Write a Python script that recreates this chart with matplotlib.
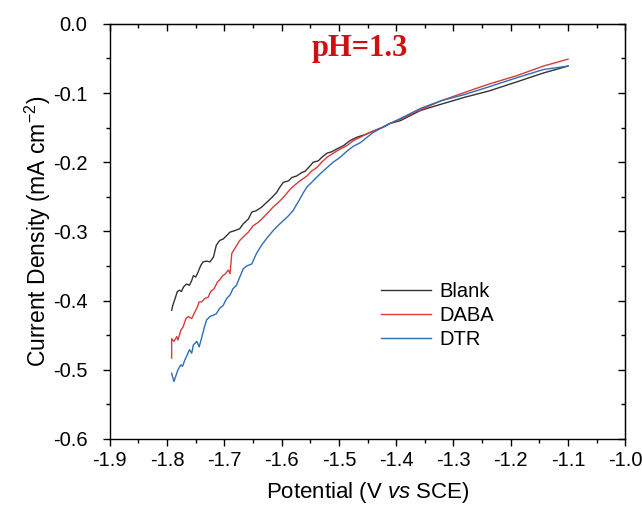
import numpy as np
import matplotlib
matplotlib.use("Agg")
import matplotlib.pyplot as plt
from matplotlib.ticker import MultipleLocator, FormatStrFormatter

plt.rcParams["font.family"] = ["Liberation Sans", "DejaVu Sans"]
plt.rcParams["mathtext.fontset"] = "custom"
plt.rcParams["mathtext.rm"] = "Liberation Sans"
plt.rcParams["mathtext.it"] = "Liberation Sans:italic"

# ---- data (potential in V vs SCE, current density in mA cm^-2)
blank_v = [-1.792, -1.790, -1.786, -1.782, -1.778, -1.775, -1.771, -1.766, -1.761, -1.757,
           -1.754, -1.750, -1.746, -1.741, -1.737, -1.731, -1.725, -1.719, -1.714, -1.708,
           -1.702, -1.696, -1.690, -1.682, -1.673, -1.667, -1.658, -1.652, -1.644, -1.635,
           -1.626, -1.617, -1.609, -1.603, -1.597, -1.588, -1.582, -1.574, -1.565, -1.559,
           -1.550, -1.545, -1.536, -1.530, -1.521, -1.513, -1.504, -1.492, -1.481, -1.469,
           -1.454, -1.440, -1.425, -1.411, -1.393, -1.357, -1.321, -1.280, -1.238, -1.190,
           -1.143, -1.100]
blank_j = [-0.414, -0.407, -0.397, -0.387, -0.385, -0.387, -0.380, -0.376, -0.378, -0.371,
           -0.364, -0.366, -0.359, -0.349, -0.344, -0.343, -0.344, -0.337, -0.320, -0.313,
           -0.311, -0.306, -0.301, -0.299, -0.296, -0.289, -0.282, -0.272, -0.270, -0.265,
           -0.258, -0.251, -0.244, -0.236, -0.229, -0.227, -0.222, -0.220, -0.215, -0.213,
           -0.205, -0.200, -0.198, -0.193, -0.187, -0.185, -0.181, -0.176, -0.169, -0.164,
           -0.160, -0.155, -0.150, -0.144, -0.140, -0.125, -0.116, -0.106, -0.097, -0.084,
           -0.071, -0.061]

daba_v = [-1.792, -1.792, -1.788, -1.783, -1.781, -1.776, -1.772, -1.767, -1.763, -1.757,
          -1.753, -1.748, -1.744, -1.740, -1.734, -1.728, -1.724, -1.718, -1.712, -1.708,
          -1.703, -1.699, -1.693, -1.690, -1.687, -1.682, -1.673, -1.667, -1.658, -1.650,
          -1.641, -1.632, -1.623, -1.615, -1.603, -1.594, -1.585, -1.577, -1.568, -1.556,
          -1.548, -1.539, -1.530, -1.521, -1.510, -1.498, -1.486, -1.475, -1.463, -1.449,
          -1.434, -1.419, -1.411, -1.393, -1.357, -1.321, -1.280, -1.238, -1.190, -1.143,
          -1.100]
daba_j = [-0.483, -0.455, -0.459, -0.452, -0.457, -0.443, -0.438, -0.426, -0.423, -0.426,
          -0.419, -0.411, -0.402, -0.402, -0.397, -0.395, -0.387, -0.383, -0.373, -0.370,
          -0.364, -0.362, -0.356, -0.361, -0.332, -0.325, -0.313, -0.308, -0.301, -0.292,
          -0.287, -0.280, -0.272, -0.265, -0.256, -0.248, -0.239, -0.233, -0.227, -0.220,
          -0.213, -0.208, -0.200, -0.193, -0.187, -0.181, -0.176, -0.169, -0.164, -0.158,
          -0.153, -0.148, -0.144, -0.138, -0.124, -0.111, -0.099, -0.087, -0.075, -0.061,
          -0.051]

dtr_v = [-1.792, -1.788, -1.783, -1.781, -1.776, -1.773, -1.769, -1.765, -1.761, -1.757,
         -1.754, -1.748, -1.744, -1.740, -1.734, -1.731, -1.725, -1.719, -1.714, -1.708,
         -1.702, -1.696, -1.690, -1.685, -1.679, -1.673, -1.667, -1.661, -1.652, -1.644,
         -1.635, -1.626, -1.615, -1.603, -1.591, -1.580, -1.568, -1.562, -1.556, -1.545,
         -1.533, -1.521, -1.510, -1.498, -1.486, -1.475, -1.463, -1.451, -1.440, -1.425,
         -1.411, -1.393, -1.357, -1.321, -1.280, -1.238, -1.190, -1.143, -1.100]
dtr_j = [-0.505, -0.517, -0.505, -0.500, -0.493, -0.495, -0.486, -0.479, -0.471, -0.476,
         -0.464, -0.459, -0.467, -0.455, -0.436, -0.428, -0.423, -0.421, -0.419, -0.411,
         -0.407, -0.397, -0.392, -0.383, -0.378, -0.366, -0.354, -0.350, -0.347, -0.332,
         -0.320, -0.310, -0.299, -0.289, -0.280, -0.270, -0.253, -0.244, -0.236, -0.227,
         -0.217, -0.208, -0.200, -0.193, -0.184, -0.177, -0.172, -0.164, -0.157, -0.150,
         -0.144, -0.137, -0.122, -0.111, -0.102, -0.091, -0.078, -0.066, -0.061]

SERIES = [("Blank", blank_v, blank_j, "#333333"),
          ("DABA", daba_v, daba_j, "#d93a3a"),
          ("DTR", dtr_v, dtr_j, "#2f6db5")]

fig = plt.figure(figsize=(6.42, 5.08), dpi=100)
ax = fig.add_axes([0.171, 0.136, 0.803, 0.817])

for label, v, j, c in SERIES:
    ax.plot(v, j, color=c, linewidth=1.0, label=label)

ax.set_xlim(-1.9, -1.0)
ax.set_ylim(-0.6, 0.0)
for axis in (ax.xaxis, ax.yaxis):
    axis.set_major_locator(MultipleLocator(0.1))
    axis.set_minor_locator(MultipleLocator(0.05))
    axis.set_major_formatter(FormatStrFormatter("%.1f"))

ax.tick_params(which="both", direction="out", top=False, right=False, labelsize=14.5, width=1)
ax.tick_params(which="major", length=5)
ax.tick_params(which="minor", length=3)
ax.tick_params(axis="x", which="major", pad=4)
ax.tick_params(axis="y", which="major", pad=11)

# inward mirrored ticks on top / right
sec_x = ax.secondary_xaxis("top")
sec_y = ax.secondary_yaxis("right")
for sec, axis in ((sec_x, sec_x.xaxis), (sec_y, sec_y.yaxis)):
    axis.set_major_locator(MultipleLocator(0.1))
    axis.set_minor_locator(MultipleLocator(0.05))
    sec.tick_params(which="both", direction="in", labeltop=False, labelright=False, width=1)
    sec.tick_params(which="major", length=5)
    sec.tick_params(which="minor", length=3)

for s in ax.spines.values():
    s.set_linewidth(1.0)

ax.set_xlabel(r"Potential (V $\mathit{vs}$ SCE)", fontsize=16, labelpad=7)
ax.set_ylabel(r"Current Density (mA cm$^{-2}$)", fontsize=16.5, labelpad=0)

ax.text(-1.463, -0.036, "pH=1.3", color="#d01010", fontsize=22, fontweight="bold",
        family=["Liberation Serif"], ha="center", va="center")

ax.legend(loc="upper left", bbox_to_anchor=(0.491, 0.422), frameon=False, fontsize=14.5,
          handlelength=2.5, labelspacing=0.25, handletextpad=0.4)

fig.savefig("out.png", dpi=100)
